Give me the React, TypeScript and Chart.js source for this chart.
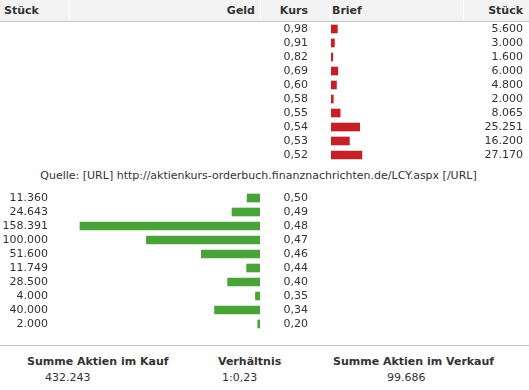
import React, { useEffect, useRef } from "react";
import { Chart, registerables } from "chart.js";

Chart.register(...registerables);

// ---- data ----
const sellPrices = ["0,98", "0,91", "0,82", "0,69", "0,60", "0,58", "0,55", "0,54", "0,53", "0,52"];
const sellVolumes = [5600, 3000, 1600, 6000, 4800, 2000, 8065, 25251, 16200, 27170];
const buyPrices = ["0,50", "0,49", "0,48", "0,47", "0,46", "0,44", "0,40", "0,35", "0,34", "0,20"];
const buyVolumes = [11360, 24643, 158391, 100000, 51600, 11749, 28500, 4000, 40000, 2000];
const headerLabels = ["Stück", "Geld", "Kurs", "Brief", "Stück"];
const sourceText = "Quelle: [URL] http://aktienkurs-orderbuch.finanznachrichten.de/LCY.aspx [/URL]";
const summaryTitles = ["Summe Aktien im Kauf", "Verhältnis", "Summe Aktien im Verkauf"];

// ---- helpers ----
const fmt = (n: number) => String(n).replace(/\B(?=(\d{3})+(?!\d))/g, ".");
const sumBuy = buyVolumes.reduce((a, b) => a + b, 0);
const sumSell = sellVolumes.reduce((a, b) => a + b, 0);
const ratioText = "1:" + (sumSell / sumBuy).toFixed(2).replace(".", ",");

const FONT = "Verdana, 'DejaVu Sans', sans-serif";
const TEXT = "#333333";
const RED = "#c42127";
const GREEN = "#4aa339";
const PX_PER_UNIT = 180 / 158391;

const tickFont = { family: FONT, size: 11 };

function zeroPad(s: any) {
  s.paddingTop = 0;
  s.paddingBottom = 0;
}

function OrderChart(props: {
  prices: string[];
  volumes: number[];
  side: "sell" | "buy";
  top: number;
}) {
  const ref = useRef<HTMLCanvasElement>(null);
  useEffect(() => {
    if (!ref.current) return;
    const sell = props.side === "sell";
    const volLabels = props.volumes.map(fmt);
    const chart = new Chart(ref.current, {
      type: "bar",
      data: {
        labels: props.prices,
        datasets: [
          {
            data: props.volumes,
            backgroundColor: sell ? RED : GREEN,
            borderWidth: 0,
            barThickness: 8,
            yAxisID: "y",
            xAxisID: "x",
          },
        ],
      },
      options: {
        indexAxis: "y",
        responsive: false,
        animation: false,
        events: [],
        layout: { padding: { left: 0, right: sell ? 6 : 221, top: 0, bottom: 0 } },
        plugins: { legend: { display: false }, tooltip: { enabled: false }, title: { display: false } },
        scales: {
          x: {
            type: "linear",
            display: false,
            min: 0,
            max: (sell ? 132 : 208) / PX_PER_UNIT,
            reverse: !sell,
          },
          y: {
            type: "category",
            position: "left",
            offset: true,
            labels: sell ? props.prices : volLabels,
            grid: { display: false, drawTicks: false },
            border: { display: false },
            ticks: { padding: sell ? 23 : 4, font: tickFont, color: TEXT, autoSkip: false },
            afterFit: (s: any) => {
              s.width = sell ? 331 : 52;
              zeroPad(s);
            },
          },
          y2: {
            type: "category",
            position: "right",
            offset: true,
            labels: sell ? volLabels : props.prices,
            grid: { display: false, drawTicks: false },
            border: { display: false },
            ticks: { crossAlign: "far", font: tickFont, color: TEXT, autoSkip: false },
            afterFit: (s: any) => {
              s.width = sell ? 60 : 48;
              zeroPad(s);
            },
          },
        },
      } as any,
    });
    return () => chart.destroy();
  }, []);
  return (
    <canvas
      ref={ref}
      width={529}
      height={140}
      style={{ position: "absolute", left: 0, top: props.top, width: 529, height: 140 }}
    />
  );
}

const abs = (extra: React.CSSProperties): React.CSSProperties => ({
  position: "absolute",
  whiteSpace: "nowrap",
  fontFamily: FONT,
  fontSize: 11,
  color: TEXT,
  lineHeight: "14px",
  ...extra,
});

export default function App() {
  return (
    <div
      style={{
        position: "absolute",
        left: 0,
        top: 0,
        width: 529,
        height: 390,
        background: "#ffffff",
        overflow: "hidden",
      }}
    >
      {/* header */}
      <div style={{ position: "absolute", left: 0, top: 0, width: 529, height: 21, background: "#f3f3f3" }} />
      <div style={{ position: "absolute", left: 0, top: 21, width: 529, height: 1, background: "#c4c4c4" }} />
      {[69, 260, 330, 463].map((x) => (
        <div key={x} style={{ position: "absolute", left: x, top: 0, width: 1, height: 21, background: "#ffffff" }} />
      ))}
      <div style={abs({ left: 4, top: 4, fontWeight: "bold" })}>{headerLabels[0]}</div>
      <div style={abs({ right: 529 - 255, top: 4, fontWeight: "bold" })}>{headerLabels[1]}</div>
      <div style={abs({ right: 529 - 308, top: 4, fontWeight: "bold" })}>{headerLabels[2]}</div>
      <div style={abs({ left: 332, top: 4, fontWeight: "bold" })}>{headerLabels[3]}</div>
      <div style={abs({ right: 529 - 523, top: 4, fontWeight: "bold" })}>{headerLabels[4]}</div>

      <OrderChart prices={sellPrices} volumes={sellVolumes} side="sell" top={22} />

      <div style={abs({ left: 0, width: 517, textAlign: "center", top: 169, fontSize: 11 })}>{sourceText}</div>

      <OrderChart prices={buyPrices} volumes={buyVolumes} side="buy" top={191} />

      {/* summary */}
      <div style={{ position: "absolute", left: 0, top: 345, width: 529, height: 1, background: "#c4c4c4" }} />
      <div style={abs({ left: 27, top: 355, fontWeight: "bold" })}>{summaryTitles[0]}</div>
      <div style={abs({ left: 45, top: 371 })}>{fmt(sumBuy)}</div>
      <div style={abs({ left: 218, top: 355, fontWeight: "bold" })}>{summaryTitles[1]}</div>
      <div style={abs({ left: 222, top: 371 })}>{ratioText}</div>
      <div style={abs({ left: 333, top: 355, fontWeight: "bold" })}>{summaryTitles[2]}</div>
      <div style={abs({ left: 387, top: 371 })}>{fmt(sumSell)}</div>
    </div>
  );
}
